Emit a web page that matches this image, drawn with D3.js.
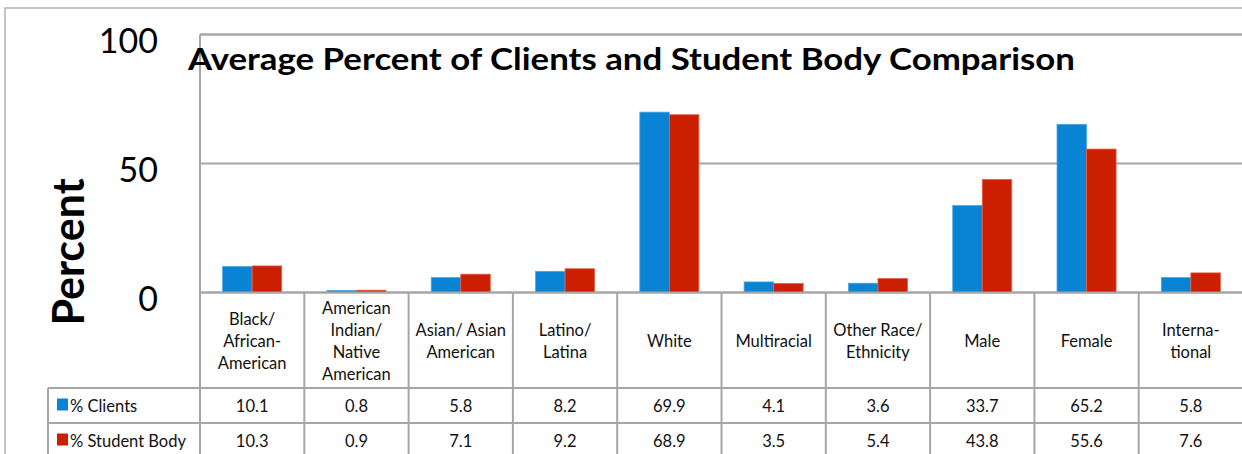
<!DOCTYPE html>
<html>
<head>
<meta charset="utf-8">
<script src="https://cdn.jsdelivr.net/npm/d3@7"></script>
<style>
  body { margin: 0; background: #fff; }
  svg { display: block; font-family: Lato, "Open Sans", sans-serif; }
</style>
</head>
<body>
<svg id="chart" width="1242" height="454"></svg>
<script>
// categories, one array of lines per column
var categories = [
    ["Black/", "African-", "American"],
    ["American", "Indian/", "Native", "American"],
    ["Asian/ Asian", "American"],
    ["Latino/", "Latina"],
    ["White"],
    ["Multiracial"],
    ["Other Race/", "Ethnicity"],
    ["Male"],
    ["Female"],
    ["Interna-", "tional"]
];
var clients = [10.1, 0.8, 5.8, 8.2, 69.9, 4.1, 3.6, 33.7, 65.2, 5.8];
var studentBody = [10.3, 0.9, 7.1, 9.2, 68.9, 3.5, 5.4, 43.8, 55.6, 7.6];
var seriesNames = ["% Clients", "% Student Body"];
var yTicks = [0, 50, 100];
var title = "Average Percent of Clients and Student Body Comparison";

var colors = ["#0983d3", "#cc1f00"];
var edgeColors = ["#4ea8e2", "#e2624a"];
var lineColor = "#a6a6a6";

var svg = d3.select("#chart");

var plotLeft = 200, plotRight = 1243, plotTop = 34.5, plotBottom = 292.5;
var rowLine1 = 388, rowLine2 = 423, legendLeft = 48;

var x = d3.scaleBand()
    .domain(d3.range(categories.length))
    .range([plotLeft, plotRight])
    .padding(0);

var xInner = d3.scaleBand()
    .domain([0, 1])
    .range([0, x.bandwidth()])
    .paddingInner(0)
    .paddingOuter(0.766);

var y = d3.scaleLinear()
    .domain([0, 100])
    .range([plotBottom, plotTop]);

// outer frame
svg.append("path")
    .attr("d", "M5,460 V8 H1250")
    .attr("fill", "none")
    .attr("stroke", "#b3b3b3")
    .attr("stroke-width", 1.5);

// gridlines
svg.append("g").selectAll("line")
    .data(yTicks)
    .join("line")
    .attr("x1", plotLeft).attr("x2", plotRight)
    .attr("y1", function(d){ return y(d); })
    .attr("y2", function(d){ return y(d); })
    .attr("stroke", lineColor)
    .attr("stroke-width", 2);

// y tick labels
svg.append("g").selectAll("text")
    .data(yTicks)
    .join("text")
    .attr("x", 158)
    .attr("y", function(d){ return y(d) + 18; })
    .attr("text-anchor", "end")
    .style("font-size", "34px")
    .attr("fill", "#000")
    .text(function(d){ return d; });

// y axis title
svg.append("text")
    .attr("transform", "translate(67,252) rotate(-90)")
    .attr("text-anchor", "middle")
    .attr("dominant-baseline", "central")
    .style("font-size", "43px")
    .style("font-weight", "bold")
    .text("Percent");

// bars
var series = [clients, studentBody];
series.forEach(function(values, s){
    svg.append("g").selectAll("rect")
        .data(values)
        .join("rect")
        .attr("x", function(d, i){ return x(i) + xInner(s); })
        .attr("width", xInner.bandwidth())
        .attr("y", function(d){ return y(d); })
        .attr("height", function(d){ return plotBottom - y(d); })
        .attr("fill", colors[s])
        .attr("stroke", edgeColors[s])
        .attr("stroke-width", 0.8);
});

// table lines
var table = svg.append("g")
    .attr("stroke", lineColor)
    .attr("stroke-width", 2);

table.append("line")
    .attr("x1", plotLeft).attr("x2", plotRight)
    .attr("y1", plotBottom).attr("y2", plotBottom);
table.append("line")
    .attr("x1", plotLeft).attr("x2", plotRight)
    .attr("y1", plotTop).attr("y2", plotTop);
[rowLine1, rowLine2].forEach(function(yy){
    table.append("line")
        .attr("x1", legendLeft).attr("x2", plotRight)
        .attr("y1", yy).attr("y2", yy);
});
table.append("line")
    .attr("x1", legendLeft).attr("x2", legendLeft)
    .attr("y1", rowLine1).attr("y2", 460);
table.append("line")
    .attr("x1", plotLeft).attr("x2", plotLeft)
    .attr("y1", plotTop).attr("y2", 460);
table.selectAll(".col")
    .data(d3.range(1, categories.length + 1))
    .join("line")
    .attr("class", "col")
    .attr("x1", function(i){ return plotLeft + i * x.step(); })
    .attr("x2", function(i){ return plotLeft + i * x.step(); })
    .attr("y1", plotBottom).attr("y2", 460);

// category labels
var lineH = 22;
var catG = svg.append("g").selectAll("text")
    .data(categories)
    .join("text")
    .attr("text-anchor", "middle")
    .style("font-size", "16.5px")
    .attr("fill", "#111");
catG.each(function(lines, i){
    var t = d3.select(this);
    var cx = x(i) + x.bandwidth() / 2;
    var startY = 341 - (lines.length - 1) * lineH / 2 + 6;
    lines.forEach(function(l, k){
        t.append("tspan")
            .attr("x", cx)
            .attr("y", startY + k * lineH)
            .text(l);
    });
});

// data rows
var rowCenters = [405.5, 440.5];
series.forEach(function(values, s){
    svg.append("g").selectAll("text")
        .data(values)
        .join("text")
        .attr("x", function(d, i){ return x(i) + x.bandwidth() / 2; })
        .attr("y", rowCenters[s] + 6)
        .attr("text-anchor", "middle")
        .style("font-size", "16.5px")
        .attr("fill", "#111")
        .text(function(d){ return d.toFixed(1); });

    svg.append("rect")
        .attr("x", 57).attr("y", rowCenters[s] - 7)
        .attr("width", 11).attr("height", 12)
        .attr("fill", colors[s]);
    svg.append("text")
        .attr("x", 70).attr("y", rowCenters[s] + 6)
        .style("font-size", "16.5px")
        .attr("fill", "#111")
        .text(seriesNames[s]);
});

// title
svg.append("text")
    .attr("x", 188)
    .attr("y", 70)
    .attr("textLength", 887)
    .attr("lengthAdjust", "spacingAndGlyphs")
    .style("font-size", "31px")
    .style("font-weight", "bold")
    .text(title);
</script>
</body>
</html>
